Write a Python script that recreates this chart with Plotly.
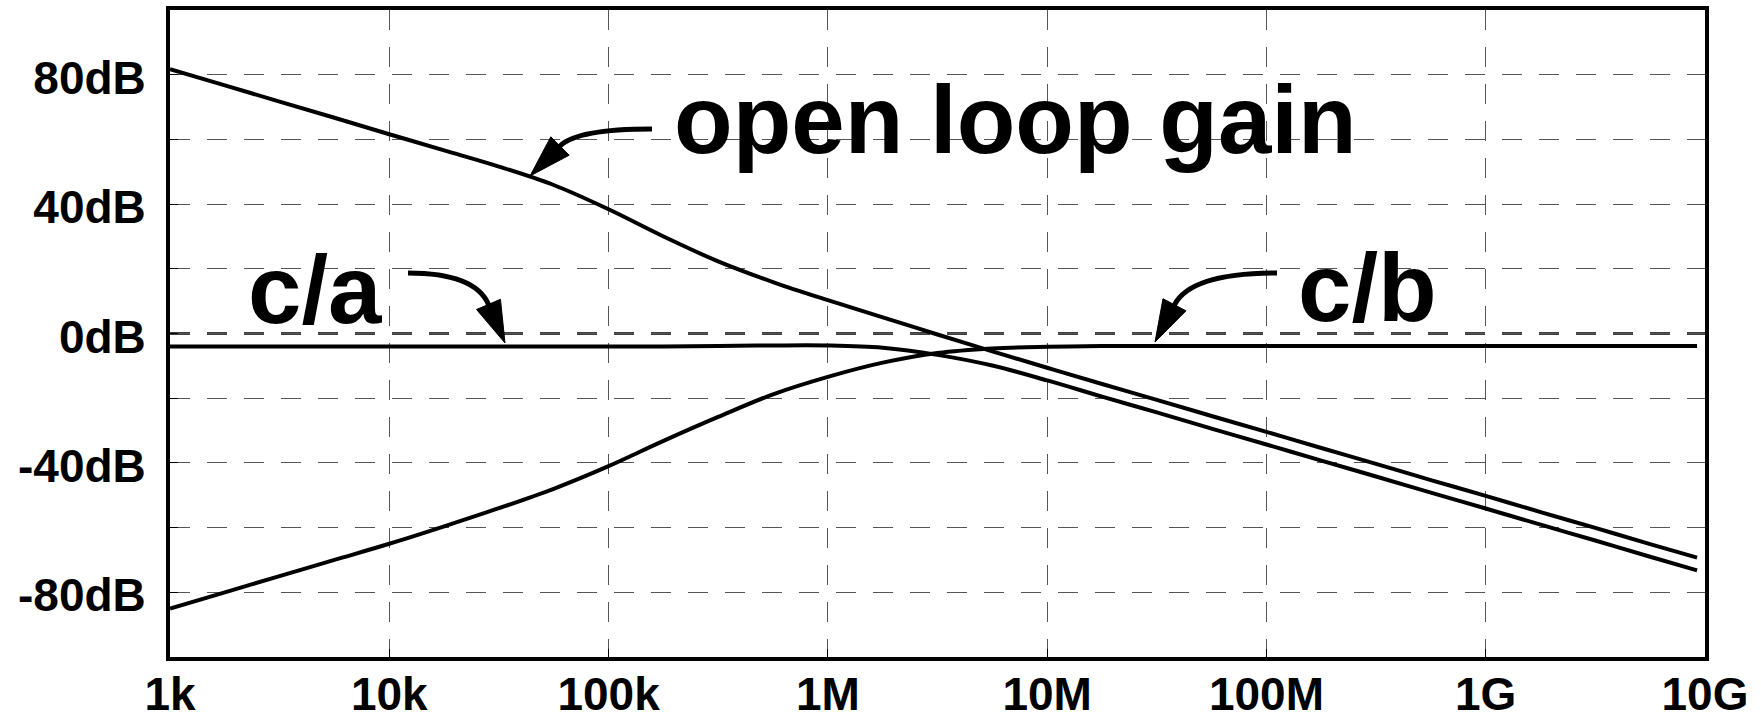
import plotly.graph_objects as go

# ---------------- data ----------------
freq_hz = [1.0e3, 1.78e3, 3.16e3, 5.62e3,
           1.0e4, 1.78e4, 3.16e4, 5.62e4,
           1.0e5, 1.78e5, 3.16e5, 5.62e5,
           1.0e6, 1.78e6, 3.16e6, 5.62e6,
           1.0e7, 1.78e7, 3.16e7, 5.62e7,
           1.0e8, 1.78e8, 3.16e8, 5.62e8,
           1.0e9, 1.78e9, 3.16e9, 5.62e9, 9.2e9]

open_loop_db = [81.7, 76.7, 71.7, 66.7,
                61.6, 56.6, 51.6, 45.9,
                38.4, 30.0, 22.3, 15.9,
                10.3, 5.0, -0.3, -5.5,
                -10.6, -15.6, -20.5, -25.5,
                -30.4, -35.4, -40.3, -45.3,
                -50.2, -55.2, -60.1, -65.1, -69.3]

c_over_a_db = [-4.0, -4.0, -4.0, -4.0,
               -4.0, -4.0, -4.0, -4.0,
               -4.0, -4.0, -3.9, -3.7,
               -3.7, -4.4, -6.6, -9.9,
               -14.5, -19.5, -24.4, -29.4,
               -34.3, -39.3, -44.2, -49.2,
               -54.1, -59.1, -64.0, -69.0, -73.2]

c_over_b_db = [-85.0, -80.0, -75.0, -70.0,
               -65.0, -59.6, -54.0, -48.0,
               -41.0, -33.2, -25.8, -18.8,
               -13.4, -9.0, -6.0, -4.6,
               -4.1, -3.9, -3.9, -3.9,
               -3.9, -3.9, -3.9, -3.9,
               -3.9, -3.9, -3.9, -3.9, -3.9]

x_tick_vals = [1e3, 1e4, 1e5, 1e6, 1e7, 1e8, 1e9, 1e10]
x_tick_text = ["1k", "10k", "100k", "1M", "10M", "100M", "1G", "10G"]
y_tick_vals = [-80, -60, -40, -20, 0, 20, 40, 60, 80]
y_tick_text = ["-80dB", "", "-40dB", "", "0dB", "", "40dB", "", "80dB"]

# ---------------- layout geometry ----------------
W, H = 1761, 721
L_M, R_M, T_M, B_M = 170, 56, 10, 64
PW = W - L_M - R_M
PH = H - T_M - B_M


def px(x):
    return (x - L_M) / PW


def py(y):
    return (H - B_M - y) / PH


FONT = "Liberation Sans, Arial, Helvetica, sans-serif"
DASH = "20px,17px"

fig = go.Figure()
for name, vals in [("open loop gain", open_loop_db),
                   ("c/a", c_over_a_db),
                   ("c/b", c_over_b_db)]:
    fig.add_trace(go.Scatter(
        x=freq_hz, y=vals, mode="lines", name=name,
        line=dict(color="black", width=4, shape="spline", smoothing=1.0),
        showlegend=False))

axis_common = dict(
    automargin=False,
    showline=True, linecolor="black", linewidth=4, mirror=True,
    showgrid=True, gridcolor="#555555", gridwidth=1, griddash=DASH,
    zeroline=False, ticks="inside", ticklen=8, tickwidth=1,
    tickcolor="black",
    tickfont=dict(family=FONT, size=46, color="black", weight="bold"),
)

fig.update_xaxes(type="log", range=[3, 10], tickmode="array",
                 tickvals=x_tick_vals, ticktext=x_tick_text,
                 ticklabelstandoff=-6, **axis_common)
fig.update_yaxes(range=[-100, 100], tickmode="array",
                 tickvals=y_tick_vals, ticktext=y_tick_text,
                 ticklabelstandoff=11, ticklabelshift=3, **axis_common)

# bold dashed 0 dB reference line
shapes = [dict(type="line", xref="paper", yref="y", x0=0, x1=1, y0=0, y1=0,
               line=dict(color="black", width=2.5, dash=DASH), layer="below")]


def curved_arrow(tail, ctrl, base, tip):
    s = dict(type="path", xref="paper", yref="paper",
             path=(f"M {px(tail[0])},{py(tail[1])} "
                   f"Q {px(ctrl[0])},{py(ctrl[1])} {px(base[0])},{py(base[1])}"),
             line=dict(color="black", width=5))
    dx, dy = tip[0] - base[0], tip[1] - base[1]
    n = (dx * dx + dy * dy) ** 0.5
    ux, uy = dx / n, dy / n
    hw = 13
    c1 = (base[0] - uy * hw, base[1] + ux * hw)
    c2 = (base[0] + uy * hw, base[1] - ux * hw)
    h = dict(type="path", xref="paper", yref="paper",
             path=(f"M {px(tip[0])},{py(tip[1])} L {px(c1[0])},{py(c1[1])} "
                   f"L {px(c2[0])},{py(c2[1])} Z"),
             fillcolor="black", line=dict(color="black", width=1))
    return [s, h]


shapes += curved_arrow((652, 129), (577, 129), (560, 146), (530, 176))
shapes += curved_arrow((408, 273), (475, 273), (488.5, 304.4), (505, 343))
shapes += curved_arrow((1277, 273), (1191, 273), (1174.5, 304.8), (1155, 342))

annotations = []
for text, cx, cy in [("open loop gain", 1015, 120),
                     ("c/a", 314.5, 289),
                     ("c/b", 1367, 287)]:
    annotations.append(dict(
        text=text, xref="paper", yref="paper", x=px(cx), y=py(cy),
        xanchor="center", yanchor="middle", showarrow=False,
        font=dict(family=FONT, size=96, color="black", weight="bold")))

fig.update_layout(
    width=W, height=H,
    margin=dict(l=L_M, r=R_M, t=T_M, b=B_M, pad=0),
    paper_bgcolor="white", plot_bgcolor="white",
    showlegend=False, shapes=shapes, annotations=annotations,
)

fig.write_html("out.html", config={"displayModeBar": False},
               post_script="document.body.style.margin='0';")
